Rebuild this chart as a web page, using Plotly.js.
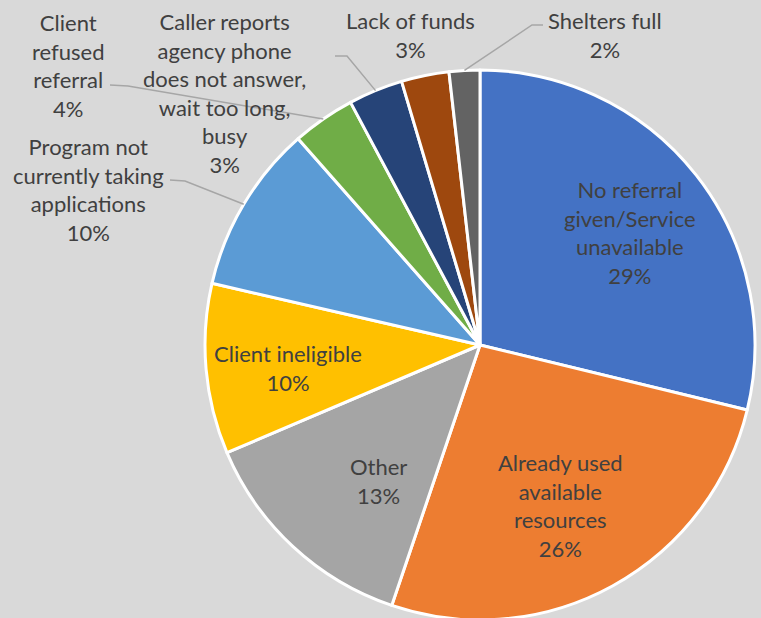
<!DOCTYPE html>
<html><head><meta charset="utf-8">
<script src="https://cdn.plot.ly/plotly-3.0.1.min.js"></script>
<style>html,body{margin:0;padding:0;overflow:hidden;background:#d9d9d9}</style>
</head><body>
<div id="chart" style="width:761px;height:620px"></div>
<script>
const categories = ["No referral given/Service unavailable","Already used available resources","Other","Client ineligible","Program not currently taking applications","Client refused referral","Caller reports agency phone does not answer, wait too long, busy","Lack of funds","Shelters full"];
const displayLabels = ["No referral<br>given/Service<br>unavailable","Already used<br>available<br>resources","Other","Client ineligible","Program not<br>currently taking<br>applications","Client<br>refused<br>referral","Caller reports<br>agency phone<br>does not answer,<br>wait too long,<br>busy","Lack of funds","Shelters full"];
const values = [28.8, 26.4, 13.4, 10.0, 9.9, 3.7, 3.2, 2.8, 1.8];
const colors = ["#4472c4","#ed7d31","#a5a5a5","#ffc000","#5b9bd5","#70ad47","#264478","#9e480e","#636363"];

const W = 761, H = 620;
const cx = 480, cy = 345, R = 275;
// label block centres (pixels)
const labelPos = [[630,232],[560,505],[378,481],[288,368],[88,190],[68,65],[224,93],[410,35],[605,35]];
// leader line start/elbow (pixels), null = no leader
const leaders = [null,null,null,null,[[170,180],[185,181]],[[110,85],[128,86]],[[335,56],[347,56]],null,[[543,25],[532,25]]];

const total = values.reduce((a,b)=>a+b,0);
const px = x => x/W, py = y => 1 - y/H;
const annotations = [], shapes = [];
let cum = 0;
values.forEach((v,i)=>{
  const mid = (cum + v/2)/total; cum += v;
  const th = mid*2*Math.PI;
  const ex = cx + R*Math.sin(th), ey = cy - R*Math.cos(th);
  annotations.push({x:px(labelPos[i][0]), y:py(labelPos[i][1]), xref:'paper', yref:'paper',
    text: displayLabels[i] + '<br>' + Math.round(v/total*100) + '%', showarrow:false,
    xanchor:'center', yanchor:'middle', align:'center',
    font:{family:'Lato, "Open Sans", sans-serif', size:22, color:'#404040'}});
  if (leaders[i]) {
    const [a,b] = leaders[i];
    shapes.push({type:'path', xref:'paper', yref:'paper',
      path:`M ${px(a[0])},${py(a[1])} L ${px(b[0])},${py(b[1])} L ${px(ex)},${py(ey)}`,
      line:{color:'#a6a6a6', width:1.5}});
  }
});

const trace = {type:'pie', labels:categories, values:values, sort:false, direction:'clockwise', rotation:0,
  marker:{colors:colors, line:{color:'#ffffff', width:3}}, textinfo:'none', hoverinfo:'label+percent',
  domain:{x:[205/W, 755/W], y:[0, 550/H]}};

Plotly.newPlot('chart',[trace],{width:W,height:H,margin:{l:0,r:0,t:0,b:0},
  paper_bgcolor:'#d9d9d9', plot_bgcolor:'#d9d9d9', showlegend:false,
  annotations:annotations, shapes:shapes},{staticPlot:true});
</script>
</body></html>
